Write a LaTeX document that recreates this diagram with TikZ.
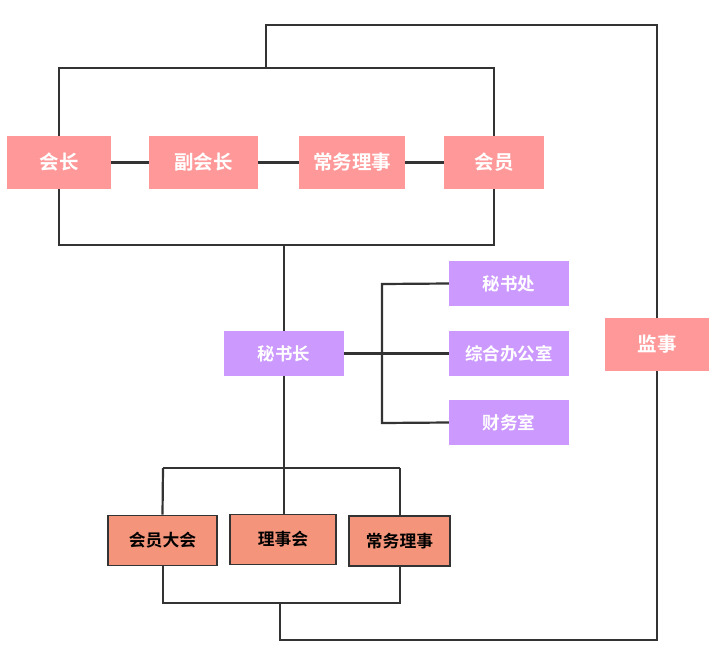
\documentclass[tikz,border=0pt]{standalone}
\usepackage{fontspec}
\newfontfamily\cjk{Noto Sans CJK SC}[BoldFont={Noto Sans CJK SC Bold}]
\definecolor{pinkbox}{HTML}{FF9999}
\definecolor{purplebox}{HTML}{CC99FF}
\definecolor{salmonbox}{HTML}{F4957B}
\definecolor{linec}{HTML}{333333}
\begin{document}
\begin{tikzpicture}[x=1pt,y=-1pt,
  conn/.style={draw=linec,line width=2.2pt},
  pinkb/.style={fill=pinkbox,text=white,font=\cjk\bfseries\fontsize{19.5}{21}\selectfont,inner sep=0pt,minimum height=53pt},
  purpb/.style={fill=purplebox,text=white,font=\cjk\bfseries\fontsize{17.5}{19}\selectfont,inner sep=0pt,minimum height=45pt,minimum width=120pt},
  salb/.style={fill=salmonbox,draw=linec,line width=1.8pt,text=black,font=\cjk\bfseries\fontsize{16.8}{18}\selectfont,inner sep=0pt,minimum height=50pt}]
\useasboundingbox (0,0) rectangle (715,651);
% top row
\node[pinkb,minimum width=104pt] (hz) at (59,162.5) {会长};
\node[pinkb,minimum width=109pt] (fhz) at (203.5,162.5) {副会长};
\node[pinkb,minimum width=106pt] (cw) at (352,162.5) {常务理事};
\node[pinkb,minimum width=100pt] (hy) at (494,162.5) {会员};
\node[pinkb,minimum width=104pt] (js) at (657,344.5) {监事};
% purple
\node[purpb] (msz) at (284,353.5) {秘书长};
\node[purpb] (msc) at (509,283.5) {秘书处};
\node[purpb] (zh) at (509,353.5) {综合办公室};
\node[purpb] (cws) at (509,422.5) {财务室};
% bottom
\node[salb,minimum width=109pt] (hydh) at (162.5,540.5) {会员大会};
\node[salb,minimum width=106pt] (lsh) at (283,539.5) {理事会};
\node[salb,minimum width=101pt] (cwb) at (399.5,541) {常务理事};
% coordinates
\coordinate (tl) at (59,68);
\coordinate (tr) at (494,68);
\coordinate (bl) at (59,245);
\coordinate (br) at (494,245);
\coordinate (bm) at (284,245);
\coordinate (tm) at (266,68);
\coordinate (ta) at (266,25);
\coordinate (tb) at (657,25);
\coordinate (rb) at (657,640);
\coordinate (lb) at (280,640);
\coordinate (lbt) at (280,603);
\coordinate (hm) at (284,468);
\coordinate (hl) at (163,468);
\coordinate (hr) at (400,468);
\coordinate (ll) at (163,603);
\coordinate (lr) at (400,603);
\coordinate (vt) at (382,284);
\coordinate (vb) at (382,423);
% connectors
\draw[conn] (hz) -- (fhz);
\draw[conn] (fhz) -- (cw);
\draw[conn] (cw) -- (hy);
\draw[conn] (hz.north) -- (tl) -- (tr) -- (hy.north);
\draw[conn] (hz.south) -- (bl) -- (br) -- (hy.south);
\draw[conn] (tm) -- (ta) -- (tb) -- (js.north);
\draw[conn] (js.south) -- (rb) -- (lb) -- (lbt);
\draw[conn] (bm) -- (msz.north);
\draw[conn] (msz.south) -- (hm);
\draw[conn] (msz.east) -- (zh.west);
\draw[conn] (msc.west) -- (vt) -- (vb) -- (cws.west);
\draw[conn] (hl) -- (hr);
\draw[conn] (hl) -- (hydh.north);
\draw[conn] (hm) -- (lsh.north -| hm);
\draw[conn] (hr) -- (cwb.north -| hr);
\draw[conn] (hydh.south -| hl) -- (ll) -- (lr) -- (cwb.south -| lr);
\end{tikzpicture}
\end{document}
